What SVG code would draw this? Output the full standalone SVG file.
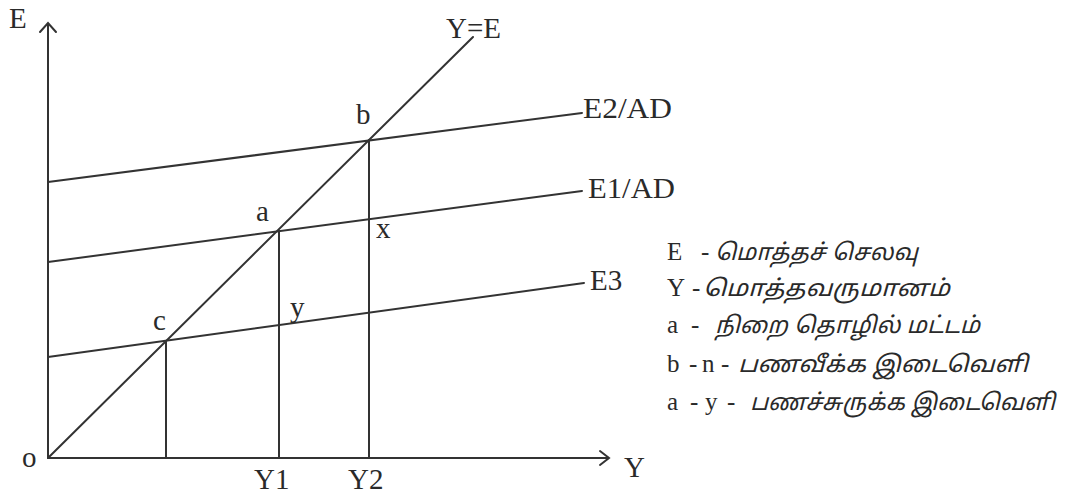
<svg xmlns="http://www.w3.org/2000/svg" width="1078" height="497" viewBox="0 0 1078 497">
<style>
.ln{stroke:#333;stroke-width:2;fill:none;stroke-linecap:round}
.lb{font-family:"Liberation Serif","Times New Roman",serif;font-size:29px;fill:#2a2a2a}
.lg{font-family:"Liberation Serif","Times New Roman",serif;font-size:25px;fill:#2a2a2a}
.ta{font-family:"Noto Sans Tamil","Latha","Noto Sans",sans-serif;font-style:italic;font-size:23px;fill:#2a2a2a}
</style>
<rect width="1078" height="497" fill="#ffffff"/>
<g id="axes">
<line class="ln" x1="48" y1="458" x2="48" y2="24"/>
<polyline class="ln" points="40,32 48,23 56,32"/>
<line class="ln" x1="48" y1="458" x2="608" y2="458"/>
<polyline class="ln" points="600,451 609,458 600,465"/>
<text class="lb" x="9" y="28">E</text>
<text class="lb" x="624" y="477">Y</text>
<text class="lb" x="22" y="467">o</text>
</g>
<g id="connectors">
<line class="ln" x1="48" y1="458" x2="473" y2="37"/>
<line class="ln" x1="48" y1="182" x2="582" y2="113"/>
<line class="ln" x1="48" y1="262" x2="582" y2="191"/>
<line class="ln" x1="48" y1="357" x2="584" y2="283"/>
<line class="ln" x1="166" y1="458" x2="166" y2="341"/>
<line class="ln" x1="279" y1="458" x2="279" y2="231"/>
<line class="ln" x1="369" y1="458" x2="369" y2="140"/>
</g>
<g id="line-labels">
<text class="lb" x="446" y="38">Y=E</text>
<text class="lb" x="583" y="118" textLength="89" lengthAdjust="spacingAndGlyphs">E2/AD</text>
<text class="lb" x="588" y="198" textLength="87" lengthAdjust="spacingAndGlyphs">E1/AD</text>
<text class="lb" x="590" y="290">E3</text>
</g>
<g id="points">
<text class="lb" x="356" y="124">b</text>
<text class="lb" x="256" y="221">a</text>
<text class="lb" x="376" y="238">x</text>
<text class="lb" x="153" y="330">c</text>
<text class="lb" x="290" y="317">y</text>
<text class="lb" x="254" y="489">Y1</text>
<text class="lb" x="348" y="489">Y2</text>
</g>
<g id="legend">
<text class="lg" x="667 701" y="260">E-</text>
<text class="ta" x="715" y="260" textLength="203" lengthAdjust="spacingAndGlyphs">மொத்தச் செலவு</text>
<text class="lg" x="667 692" y="296">Y-</text>
<text class="ta" x="703" y="296" textLength="247" lengthAdjust="spacingAndGlyphs">மொத்தவருமானம்</text>
<text class="lg" x="667 691" y="333">a-</text>
<text class="ta" x="715" y="333" textLength="265" lengthAdjust="spacingAndGlyphs">நிறை தொழில் மட்டம்</text>
<text class="lg" x="667 689 702 721" y="372">b-n-</text>
<text class="ta" x="738" y="372" textLength="290" lengthAdjust="spacingAndGlyphs">பணவீக்க இடைவெளி</text>
<text class="lg" x="667 690 705 727" y="410">a-y-</text>
<text class="ta" x="750" y="410" textLength="305" lengthAdjust="spacingAndGlyphs">பணச்சுருக்க இடைவெளி</text>
</g>
</svg>
